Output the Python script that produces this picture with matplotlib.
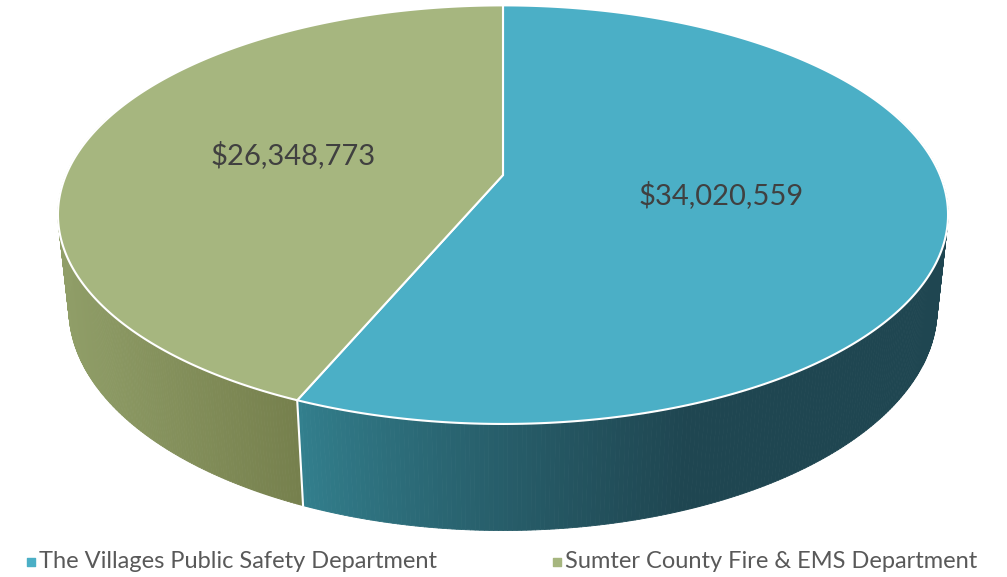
import numpy as np
import matplotlib.pyplot as plt
import matplotlib.colors as mcolors
from matplotlib.patches import Polygon
from matplotlib.collections import PolyCollection

labels = ['The Villages Public Safety Department', 'Sumter County Fire & EMS Department']
values = [34020559, 26348773]
top_colors = ['#4bafc6', '#a6b67f']
side_colors = [('#33808e', '#1f4651'), ('#909e68', '#76804d')]   # (left, right)

plt.rcParams['font.family'] = ['Lato', 'DejaVu Sans']

W, H = 1007, 577
fig = plt.figure(figsize=(W / 100, H / 100), dpi=100)
ax = fig.add_axes([0, 0, 1, 1])
ax.set_xlim(0, W); ax.set_ylim(H, 0); ax.axis('off')

# simple perspective camera looking down on a disc of radius 1
elev = np.radians(27.5)
D, F = 4.68, 2045
cx, cy = 503, 175
h = 0.245

def project(u, v, z=0.0):
    yc = v * np.sin(elev) + z * np.cos(elev)
    depth = D + v * np.cos(elev) - z * np.sin(elev)
    return cx + F * u / depth, cy - F * yc / depth

fr = np.array(values) / np.sum(values)
edges = np.concatenate([[0], np.cumsum(fr)]) * 2 * np.pi   # clockwise from far side

# sides
for i in range(len(values)):
    th = np.linspace(edges[i], edges[i + 1], 400)
    u, v = np.sin(th), np.cos(th)
    xt, yt = project(u, v, 0)
    xb, yb = project(u, v, -h)
    front = v < 0.3
    quads, xs = [], []
    for k in range(len(th) - 1):
        if not (front[k] or front[k + 1]):
            continue
        quads.append([(xt[k], yt[k]), (xt[k + 1], yt[k + 1]), (xb[k + 1], yb[k + 1]), (xb[k], yb[k])])
        xs.append((xt[k] + xt[k + 1]) / 2)
    xs = np.array(xs)
    t = (xs - xs.min()) / (xs.max() - xs.min())
    if i == 0:
        t = np.clip(t / 0.6, 0, 1) ** 0.8
    c0, c1 = np.array(mcolors.to_rgb(side_colors[i][0])), np.array(mcolors.to_rgb(side_colors[i][1]))
    cols = [c0 + (c1 - c0) * tt for tt in t]
    ax.add_collection(PolyCollection(quads, facecolors=cols, edgecolors=cols, linewidths=0.6))

# white seam on the side at the split
xs0, ys0 = project(np.sin(edges[1]), np.cos(edges[1]), 0)
xs1, ys1 = project(np.sin(edges[1]), np.cos(edges[1]), -h)
ax.plot([xs0, xs1], [ys0, ys1], color='white', lw=1.5)

# top faces
for i in range(len(values)):
    th = np.linspace(edges[i], edges[i + 1], 400)
    xt, yt = project(np.sin(th), np.cos(th), 0)
    pts = [(cx, cy)] + list(zip(xt, yt))
    ax.add_patch(Polygon(pts, closed=True, facecolor=top_colors[i], edgecolor='white', lw=1.5))

# data labels
for i in range(len(values)):
    mid = (edges[i] + edges[i + 1]) / 2
    lx, ly = project(0.5 * np.sin(mid), 0.5 * np.cos(mid), 0)
    ax.text(lx, ly, '${:,}'.format(values[i]), ha='center', va='center', fontsize=21, color='#404040')

# legend
leg_x = [31, 557]
for i in range(len(values)):
    ax.scatter([leg_x[i]], [562], marker='s', s=40, color=top_colors[i])
    ax.text(leg_x[i] + 8, 562, labels[i], ha='left', va='center', fontsize=17, color='#595959')

fig.savefig('out.png', dpi=100)
